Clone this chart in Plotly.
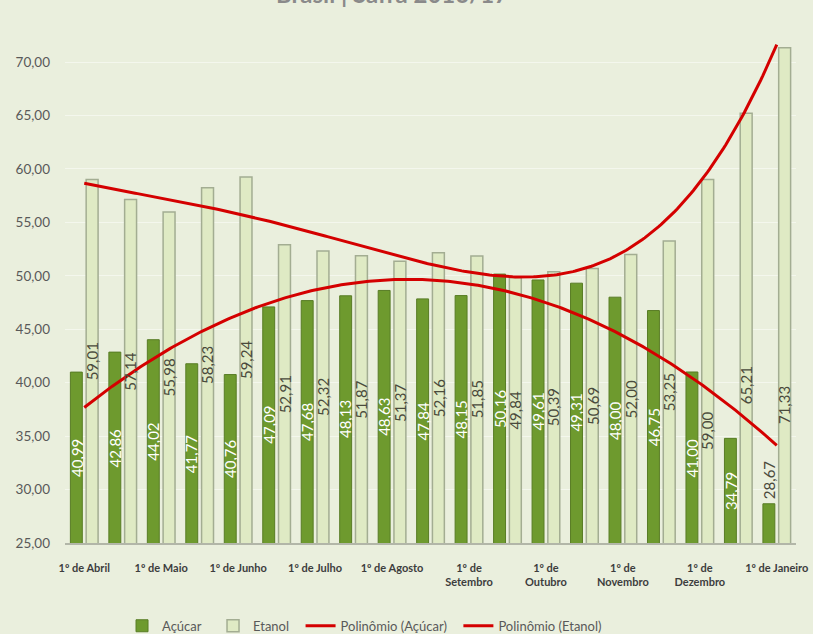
import numpy as np
import plotly.graph_objects as go

# ---- data ----
periods = list(range(1, 20))
acucar = [40.99, 42.86, 44.02, 41.77, 40.76, 47.09, 47.68, 48.13, 48.63, 47.84,
          48.15, 50.16, 49.61, 49.31, 48.00, 46.75, 41.00, 34.79, 28.67]
etanol = [59.01, 57.14, 55.98, 58.23, 59.24, 52.91, 52.32, 51.87, 51.37, 52.16,
          51.85, 49.84, 50.39, 50.69, 52.00, 53.25, 59.00, 65.21, 71.33]
tick_positions = [1, 3, 5, 7, 9, 11, 13, 15, 17, 19]
tick_labels = ["1º de Abril", "1º de Maio", "1º de Junho", "1º de Julho", "1º de Agosto",
               "1º de<br>Setembro", "1º de<br>Outubro", "1º de<br>Novembro",
               "1º de<br>Dezembro", "1º de Janeiro"]
y_ticks = [25, 30, 35, 40, 45, 50, 55, 60, 65, 70]
title_text = "Brasil | Safra 2016/17"

# ---- style ----
Y_MIN, Y_MAX = 25, 72.53
BAR_W = 0.31
OFF_A, OFF_E = -0.36, 0.05
# label vertical nudges in px (the reference shows the last labels lowered)
etanol_label_shift = [0] * 16 + [-69, -57, -110]
PAD = "\u2002"


def fmt(v):
    return f"{v:.2f}".replace(".", ",")


# polynomial trendlines (as Excel: order 2 for Açúcar, order 4 for Etanol)
xs = np.linspace(min(periods), max(periods), 300)
trend_a = np.polyval(np.polyfit(periods, acucar, 2), xs)
trend_e = np.polyval(np.polyfit(periods, etanol, 4), xs)

FONT = "Lato"
BG = "#eaefdd"
TXT_DARK = "#4a4a3c"

fig = go.Figure()
fig.add_trace(go.Bar(
    x=periods, y=acucar, name="Açúcar" + PAD, width=BAR_W, offset=OFF_A,
    marker=dict(color="#6e9a2e", line=dict(color="#587c25", width=1)),
))
fig.add_trace(go.Bar(
    x=periods, y=etanol, name="Etanol" + PAD, width=BAR_W, offset=OFF_E,
    marker=dict(color="#dfeac4", line=dict(color="#a3ad92", width=1.5)),
))
fig.add_trace(go.Scatter(
    x=xs, y=trend_a, mode="lines", name="Polinômio (Açúcar)" + PAD,
    line=dict(color="#d40000", width=3), hoverinfo="skip",
))
fig.add_trace(go.Scatter(
    x=xs, y=trend_e, mode="lines", name="Polinômio (Etanol)",
    line=dict(color="#d40000", width=3), hoverinfo="skip",
))

# rotated data labels, centred in the visible part of each bar
for p, v in zip(periods, acucar):
    inside = (v - Y_MIN) > 5
    fig.add_annotation(
        x=p + OFF_A + BAR_W / 2, y=(Y_MIN + v) / 2 if inside else v,
        yanchor="middle" if inside else "bottom", yshift=0 if inside else 3,
        text=fmt(v), textangle=-90, showarrow=False,
        font=dict(size=15, color="white" if inside else TXT_DARK, family=FONT),
    )
for p, v, s in zip(periods, etanol, etanol_label_shift):
    fig.add_annotation(
        x=p + OFF_E + BAR_W / 2, y=(Y_MIN + v) / 2, yanchor="middle", yshift=s,
        text=fmt(v), textangle=-90, showarrow=False,
        font=dict(size=15, color=TXT_DARK, family=FONT),
    )

fig.add_annotation(
    text=title_text, xref="paper", yref="paper", x=0.447, y=1.049,
    xanchor="center", yanchor="bottom", showarrow=False,
    font=dict(size=24, color="#8a8a8a", family=FONT, weight="bold"),
)

fig.update_layout(
    width=813, height=634,
    margin=dict(l=65, r=17, t=35, b=91, autoexpand=False),
    paper_bgcolor=BG, plot_bgcolor=BG,
    separators=",.",
    barmode="overlay",
    font=dict(family=FONT, color="#595959"),
    showlegend=True,
    legend=dict(orientation="h", x=0.078, xanchor="left", y=-0.163, yanchor="middle",
                font=dict(size=13, color="#595959", family=FONT),
                bgcolor="rgba(0,0,0,0)", traceorder="normal"),
)
fig.update_xaxes(
    range=[0.5, 19.5], tickmode="array", tickvals=tick_positions, ticktext=tick_labels,
    showgrid=False, zeroline=False, showline=True, linecolor="#b2b6a8", linewidth=1.5,
    ticks="", tickangle=0, ticklabelstandoff=14, automargin=False,
    tickfont=dict(size=11, color="#3d3d3d", family=FONT, weight="bold"),
)
fig.update_yaxes(
    range=[Y_MIN, Y_MAX], tickmode="array", tickvals=y_ticks, tickformat=".2f",
    showgrid=True, gridcolor="#f4f7ed", gridwidth=1, zeroline=False, showline=False,
    ticks="", ticklabelstandoff=14, automargin=False,
    tickfont=dict(size=13.5, color="#595959", family=FONT),
)

fig.write_html(
    "out.html",
    config={"displayModeBar": False},
    post_script="document.body.style.margin='0';document.body.style.background='" + BG + "';",
)
